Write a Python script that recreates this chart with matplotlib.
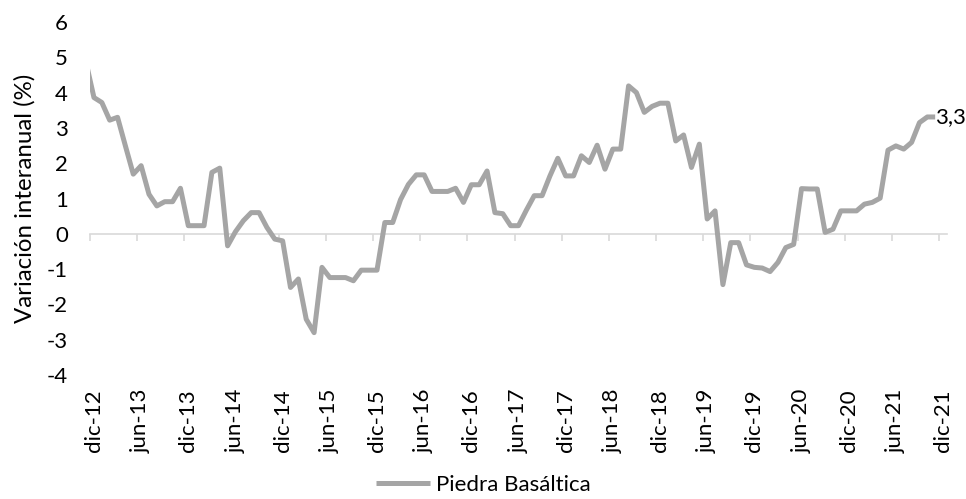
from matplotlib import pyplot as plt

# month index, 0 = dic-12; the first value (nov-12) is cut by the axis edge
months = list(range(-1, 108))
piedra_basaltica = [
    4.85,
    3.86, 3.72, 3.22, 3.30, 2.49, 1.69, 1.93, 1.12, 0.79, 0.91, 0.91, 1.29,
    0.23, 0.23, 0.23, 1.74, 1.86, -0.34, 0.06, 0.37, 0.60, 0.60, 0.18, -0.15,
    -0.20, -1.52, -1.28, -2.42, -2.80, -0.95, -1.24, -1.24, -1.24, -1.33, -1.03, -1.03,
    -1.03, 0.32, 0.32, 0.97, 1.40, 1.67, 1.67, 1.20, 1.20, 1.20, 1.29, 0.89,
    1.39, 1.39, 1.78, 0.60, 0.57, 0.23, 0.23, 0.67, 1.08, 1.08, 1.64, 2.14,
    1.64, 1.64, 2.21, 2.02, 2.51, 1.83, 2.40, 2.40, 4.19, 4.00, 3.44, 3.61,
    3.70, 3.70, 2.63, 2.80, 1.88, 2.54, 0.42, 0.65, -1.44, -0.25, -0.25, -0.88,
    -0.95, -0.97, -1.07, -0.81, -0.39, -0.30, 1.28, 1.27, 1.27, 0.04, 0.13, 0.65,
    0.65, 0.65, 0.84, 0.89, 1.01, 2.37, 2.49, 2.40, 2.59, 3.15, 3.31, 3.31,
]
tick_labels = ['dic-12', 'jun-13', 'dic-13', 'jun-14', 'dic-14', 'jun-15', 'dic-15',
               'jun-16', 'dic-16', 'jun-17', 'dic-17', 'jun-18', 'dic-18', 'jun-19',
               'dic-19', 'jun-20', 'dic-20', 'jun-21', 'dic-21']
y_ticks = list(range(-4, 7))

plt.rcParams['font.family'] = ['Lato', 'DejaVu Sans']
FS = 16
GREY = '#A5A5A5'
AXIS = '#D9D9D9'

fig = plt.figure(figsize=(9.66, 4.99), dpi=100)
ax = fig.add_axes([0.0932, 0.2485, 0.8871, 0.7074])

ax.plot(months, piedra_basaltica, color=GREY, lw=3.6, solid_joinstyle='round',
        solid_capstyle='butt', label='Piedra Basáltica')

n_slots = len(tick_labels) * 6 - 5
ax.set_xlim(-0.5, n_slots - 0.5)
ax.set_ylim(-4, 6)

# category axis sits on zero, ticks between months every half year
for s in ['top', 'right', 'left']:
    ax.spines[s].set_visible(False)
ax.spines['bottom'].set_position(('data', 0))
ax.spines['bottom'].set_color(AXIS)
ax.spines['bottom'].set_linewidth(1.2)
ax.spines['bottom'].set_zorder(0)
ax.set_xticks([k - 0.5 for k in range(0, n_slots + 1, 6)])
ax.tick_params(axis='x', direction='out', length=5, width=1.2, color=AXIS,
               labelbottom=False)

ax.set_yticks(y_ticks)
ax.set_yticklabels([str(v) for v in y_ticks])
ax.tick_params(axis='y', length=0, pad=16, labelsize=FS)
ax.set_ylabel('Variación interanual (%)', fontsize=FS + 1.3)
ax.yaxis.set_label_coords(-0.064, 0.5)

# month labels at the bottom of the plot
sec = ax.secondary_xaxis(0.0)
sec.set_xticks(list(range(0, n_slots, 6)))
sec.set_xticklabels(tick_labels, rotation=90, fontsize=FS)
sec.tick_params(length=0, pad=10)
sec.spines['bottom'].set_visible(False)

last_x, last_y = months[-1], piedra_basaltica[-1]
ax.annotate(f'{last_y:.1f}'.replace('.', ','), (last_x, last_y), xytext=(0, 0),
            textcoords='offset points', ha='left', va='center', fontsize=FS,
            annotation_clip=False)

fig.legend(loc='center', bbox_to_anchor=(0.5, 0.028), frameon=False, fontsize=FS,
           handlelength=2.45, handletextpad=0.25)

fig.savefig('out.png', dpi=100)
